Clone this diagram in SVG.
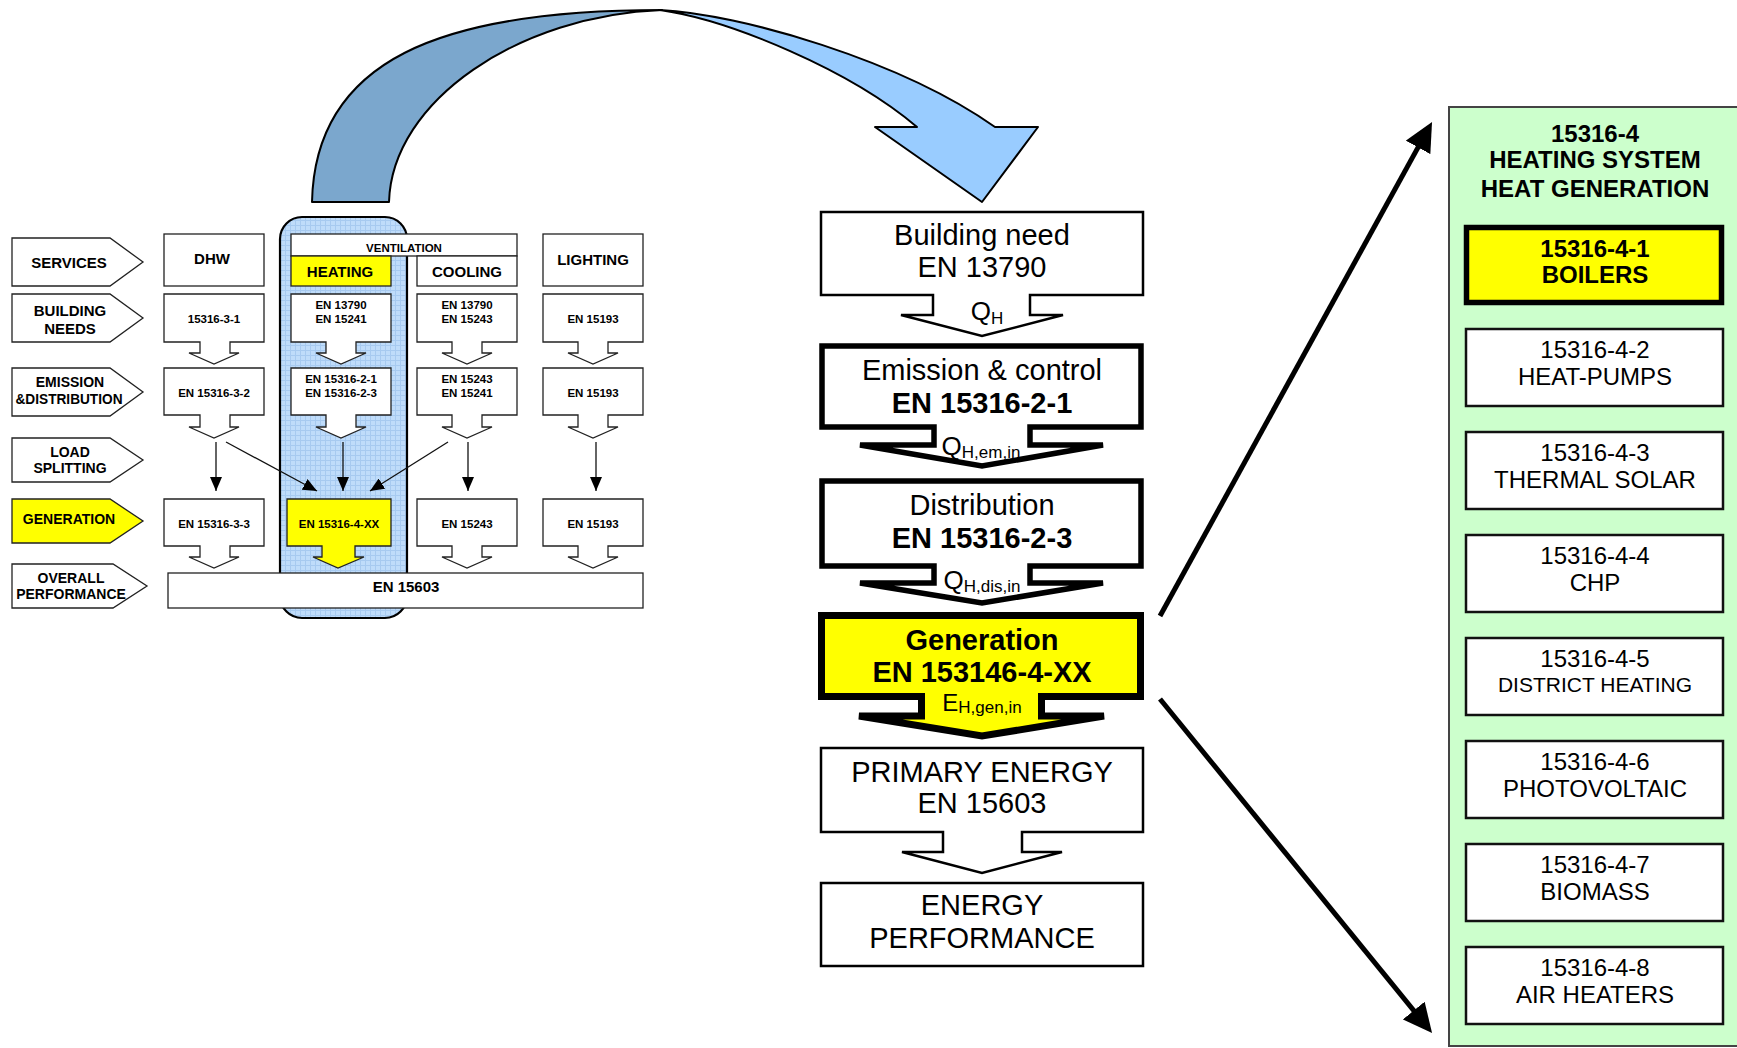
<svg xmlns="http://www.w3.org/2000/svg" width="1737" height="1048" viewBox="0 0 1737 1048">
<style>
text{font-family:"Liberation Sans",Arial,sans-serif;fill:#000}
.lbl{font-size:14px;font-weight:bold;text-anchor:middle}
.hd{font-size:15px;font-weight:bold;text-anchor:middle}
.sm{font-size:11.5px;font-weight:bold;text-anchor:middle}
.big{font-size:29px;text-anchor:middle}
.bigb{font-size:29px;font-weight:bold;text-anchor:middle}
.q{font-size:26px;text-anchor:middle}
.sub{font-size:17px}
.rp{font-size:24px;text-anchor:middle}
.rpb{font-size:24px;font-weight:bold;text-anchor:middle}
.box{fill:#fff;stroke:#222;stroke-width:1.3}
.ybox{fill:#ffff00;stroke:#222;stroke-width:1.3}
.mbox{fill:#fff;stroke:#000;stroke-width:2.5}
.tbox{fill:#fff;stroke:#000;stroke-width:5.5}
.rbox{fill:#fff;stroke:#111;stroke-width:2.5}
.thin{stroke:#111;stroke-width:1.3;fill:none}
.thick{stroke:#000;stroke-width:5;fill:none}
</style>
<defs>
<pattern id="grid" width="5" height="5" patternUnits="userSpaceOnUse">
<rect width="5" height="5" fill="#bfdcfa"/>
<path d="M0,0.5 H5 M0.5,0 V5" stroke="#a7caf0" stroke-width="1"/>
</pattern>
<marker id="sa" markerUnits="userSpaceOnUse" markerWidth="14" markerHeight="12" refX="14" refY="6" orient="auto">
<path d="M0,0 L14,6 L0,12 z" fill="#000"/>
</marker>
<marker id="ba" markerUnits="userSpaceOnUse" markerWidth="30" markerHeight="28" refX="14" refY="14" orient="auto">
<path d="M0,0 L29,14 L0,28 z" fill="#000"/>
</marker>
</defs>
<rect width="1737" height="1048" fill="#fff"/>

<g id="curved-arrow">
<path d="M312,202 C315,60 440,10 662,10 C520,15 392,100 389,202 Z" fill="#7ba7cd" stroke="#000" stroke-width="2" stroke-linejoin="round"/>
<path d="M660,10 C740,14 900,60 995,127 L1038,127 L982,202 L875,127 L917,127 C850,70 730,20 660,10 Z" fill="#99ccff" stroke="#000" stroke-width="2" stroke-linejoin="round"/>
</g>

<g id="heating-column">
<rect x="280" y="217" width="127" height="401" rx="22" ry="22" fill="url(#grid)" stroke="#000" stroke-width="2.2"/>
</g>

<g id="row-labels">
<g id="lbl-services"><path d="M12,238 H110 L143,262 L110,286 H12 Z" class="box"/><text class="hd" x="69" y="268">SERVICES</text></g>
<g id="lbl-needs"><path d="M12,294 H110 L143,318 L110,342 H12 Z" class="box"/><text class="hd" x="70" y="316">BUILDING</text><text class="hd" x="70" y="334">NEEDS</text></g>
<g id="lbl-emission"><path d="M12,368 H110 L143,392 L110,416 H12 Z" class="box"/><text class="lbl" x="70" y="387">EMISSION</text><text class="lbl" x="69" y="404" textLength="107" lengthAdjust="spacingAndGlyphs">&amp;DISTRIBUTION</text></g>
<g id="lbl-load"><path d="M12,438 H110 L143,460 L110,482 H12 Z" class="box"/><text class="lbl" x="70" y="457">LOAD</text><text class="lbl" x="70" y="473">SPLITTING</text></g>
<g id="lbl-generation"><path d="M12,499 H110 L143,521 L110,543 H12 Z" class="ybox"/><text class="lbl" x="69" y="524">GENERATION</text></g>
<g id="lbl-overall"><path d="M12,564 H113 L147,586 L113,608 H12 Z" class="box"/><text class="lbl" x="71" y="583">OVERALL</text><text class="lbl" x="71" y="599">PERFORMANCE</text></g>
</g>

<g id="services-row">
<g id="dhw"><rect x="164" y="234" width="100" height="52" class="box"/><text class="hd" x="212" y="264">DHW</text></g>
<g id="ventilation"><rect x="291" y="234" width="226" height="22" class="box"/><text class="sm" x="404" y="252">VENTILATION</text></g>
<g id="heating"><rect x="291" y="256" width="100" height="30" class="ybox"/><text class="hd" x="340" y="277">HEATING</text></g>
<g id="cooling"><rect x="417" y="256" width="100" height="30" class="box"/><text class="hd" x="467" y="277">COOLING</text></g>
<g id="lighting"><rect x="543" y="234" width="100" height="52" class="box"/><text class="hd" x="593" y="265">LIGHTING</text></g>
</g>

<g id="needs-row">
<g id="dhw-needs"><path d="M164,294 H264 V342 H230 V353 H239 L214,364 L189,353 H200 V342 H164 Z" class="box"/><text class="sm" x="214" y="323">15316-3-1</text></g>
<g id="heat-needs"><path d="M291,294 H391 V342 H356 V353 H366 L341,364 L316,353 H326 V342 H291 Z" class="box"/><text class="sm" x="341" y="309">EN 13790</text><text class="sm" x="341" y="323">EN 15241</text></g>
<g id="cool-needs"><path d="M417,294 H517 V342 H482 V353 H492 L467,364 L442,353 H452 V342 H417 Z" class="box"/><text class="sm" x="467" y="309">EN 13790</text><text class="sm" x="467" y="323">EN 15243</text></g>
<g id="light-needs"><path d="M543,294 H643 V342 H608 V353 H618 L593,364 L568,353 H578 V342 H543 Z" class="box"/><text class="sm" x="593" y="323">EN 15193</text></g>
</g>

<g id="emission-row">
<g id="dhw-em"><path d="M164,368 H264 V415 H230 V427 H239 L214,438 L189,427 H200 V415 H164 Z" class="box"/><text class="sm" x="214" y="397">EN 15316-3-2</text></g>
<g id="heat-em"><path d="M291,368 H391 V415 H356 V427 H366 L341,438 L316,427 H326 V415 H291 Z" class="box"/><text class="sm" x="341" y="383">EN 15316-2-1</text><text class="sm" x="341" y="397">EN 15316-2-3</text></g>
<g id="cool-em"><path d="M417,368 H517 V415 H482 V427 H492 L467,438 L442,427 H452 V415 H417 Z" class="box"/><text class="sm" x="467" y="383">EN 15243</text><text class="sm" x="467" y="397">EN 15241</text></g>
<g id="light-em"><path d="M543,368 H643 V415 H608 V427 H618 L593,438 L568,427 H578 V415 H543 Z" class="box"/><text class="sm" x="593" y="397">EN 15193</text></g>
</g>

<g id="generation-row">
<g id="dhw-gen"><path d="M164,499 H264 V546 H230 V557 H239 L214,568 L189,557 H200 V546 H164 Z" class="box"/><text class="sm" x="214" y="528">EN 15316-3-3</text></g>
<g id="heat-gen"><path d="M287,499 H391 V546 H355 V557 H364 L338,568 L313,557 H322 V546 H287 Z" class="ybox"/><text class="sm" x="339" y="528">EN 15316-4-XX</text></g>
<g id="cool-gen"><path d="M417,499 H517 V546 H482 V557 H492 L467,568 L442,557 H452 V546 H417 Z" class="box"/><text class="sm" x="467" y="528">EN 15243</text></g>
<g id="light-gen"><path d="M543,499 H643 V546 H608 V557 H618 L593,568 L568,557 H578 V546 H543 Z" class="box"/><text class="sm" x="593" y="528">EN 15193</text></g>
</g>

<g id="overall"><rect x="168" y="573" width="475" height="35" class="box"/><text class="hd" x="406" y="592">EN 15603</text></g>

<g id="connectors">
<line x1="216" y1="442" x2="216" y2="491" class="thin" marker-end="url(#sa)"/>
<line x1="226" y1="442" x2="317" y2="491" class="thin" marker-end="url(#sa)"/>
<line x1="343" y1="442" x2="343" y2="491" class="thin" marker-end="url(#sa)"/>
<line x1="448" y1="442" x2="370" y2="491" class="thin" marker-end="url(#sa)"/>
<line x1="468" y1="442" x2="468" y2="491" class="thin" marker-end="url(#sa)"/>
<line x1="596" y1="442" x2="596" y2="491" class="thin" marker-end="url(#sa)"/>
<line x1="1160" y1="616" x2="1424.8" y2="135.1" class="thick" marker-end="url(#ba)"/>
<line x1="1160" y1="699" x2="1422.6" y2="1021.4" class="thick" marker-end="url(#ba)"/>
</g>

<g id="building-need">
<path d="M821,212 H1143 V295 H1030 V315 H1063 L982,336 L901,315 H933 V295 H821 Z" class="mbox"/>
<text class="big" x="982" y="245">Building need</text>
<text class="big" x="982" y="277">EN 13790</text>
<text class="q" x="987" y="320">Q<tspan class="sub" dy="4">H</tspan></text>
</g>

<g id="emission-control">
<path d="M822,346 H1141 V427 H1030 V445 H1103 L982,466 L860,445 H934 V427 H822 Z" class="tbox"/>
<text class="big" x="982" y="380">Emission &amp; control</text>
<text class="bigb" x="982" y="413">EN 15316-2-1</text>
<text class="q" x="981" y="455">Q<tspan class="sub" dy="3">H,em,in</tspan></text>
</g>

<g id="distribution">
<path d="M822,481 H1141 V566 H1030 V583 H1103 L982,603 L860,583 H934 V566 H822 Z" class="tbox"/>
<text class="big" x="982" y="515">Distribution</text>
<text class="bigb" x="982" y="548">EN 15316-2-3</text>
<text class="q" x="982" y="589">Q<tspan class="sub" dy="3">H,dis,in</tspan></text>
</g>

<g id="generation">
<path d="M821.5,615.5 H1140.5 V696.5 H1041.5 V716 H1104 L982,736 L859,716 H921.5 V696.5 H821.5 Z" fill="#ffff00" stroke="#000" stroke-width="7"/>
<text class="bigb" x="982" y="650">Generation</text>
<text class="bigb" x="982" y="682">EN 153146-4-XX</text>
<text x="982" y="711" style="font-size:24px;text-anchor:middle">E<tspan class="sub" dy="2">H,gen,in</tspan></text>
</g>

<g id="primary-energy">
<path d="M821,748 H1143 V832 H1022 V852 H1062 L982,873 L902,852 H943 V832 H821 Z" class="mbox"/>
<text class="big" x="982" y="782">PRIMARY ENERGY</text>
<text class="big" x="982" y="813">EN 15603</text>
</g>

<g id="energy-performance">
<rect x="821" y="883" width="322" height="83" class="mbox"/>
<text class="big" x="982" y="915">ENERGY</text>
<text class="big" x="982" y="948">PERFORMANCE</text>
</g>

<g id="panel-15316-4">
<rect x="1449" y="107" width="290" height="939" fill="#ccffcc" stroke="#444" stroke-width="2"/>
<text class="rpb" x="1595" y="142">15316-4</text>
<text class="rpb" x="1595" y="168">HEATING SYSTEM</text>
<text class="rpb" x="1595" y="197">HEAT GENERATION</text>
</g>
<g id="boilers"><rect x="1466.5" y="227.5" width="255" height="75" fill="#ffff00" stroke="#000" stroke-width="5.5"/><text class="rpb" x="1595" y="257">15316-4-1</text><text class="rpb" x="1595" y="283">BOILERS</text></g>
<g id="heat-pumps"><rect x="1466" y="329" width="257" height="77" class="rbox"/><text class="rp" x="1595" y="358">15316-4-2</text><text class="rp" x="1595" y="385">HEAT-PUMPS</text></g>
<g id="thermal-solar"><rect x="1466" y="432" width="257" height="77" class="rbox"/><text class="rp" x="1595" y="461">15316-4-3</text><text class="rp" x="1595" y="488">THERMAL SOLAR</text></g>
<g id="chp"><rect x="1466" y="535" width="257" height="77" class="rbox"/><text class="rp" x="1595" y="564">15316-4-4</text><text class="rp" x="1595" y="591">CHP</text></g>
<g id="district-heating"><rect x="1466" y="638" width="257" height="77" class="rbox"/><text class="rp" x="1595" y="667">15316-4-5</text><text class="rp" x="1595" y="692" style="font-size:21px">DISTRICT HEATING</text></g>
<g id="photovoltaic"><rect x="1466" y="741" width="257" height="77" class="rbox"/><text class="rp" x="1595" y="770">15316-4-6</text><text class="rp" x="1595" y="797">PHOTOVOLTAIC</text></g>
<g id="biomass"><rect x="1466" y="844" width="257" height="77" class="rbox"/><text class="rp" x="1595" y="873">15316-4-7</text><text class="rp" x="1595" y="900">BIOMASS</text></g>
<g id="air-heaters"><rect x="1466" y="947" width="257" height="77" class="rbox"/><text class="rp" x="1595" y="976">15316-4-8</text><text class="rp" x="1595" y="1003">AIR HEATERS</text></g>
</svg>
